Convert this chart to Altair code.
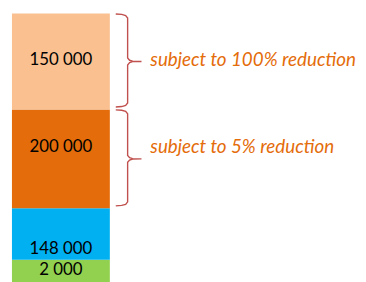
import altair as alt
import pandas as pd

# ---- data (bottom to top) ----
labels = ["2 000", "148 000", "200 000", "150 000"]
values = [2000, 148000, 200000, 150000]
drawn_size = [23, 52, 100, 97]          # relative segment heights as drawn in the picture
colors = ["#92D050", "#00B0F0", "#E46C0A", "#FAC090"]
notes = ["", "", "subject to 5% reduction", "subject to 100% reduction"]

# ---- layout (pixels) ----
W, H = 354, 272
BAR_X0, BAR_X1 = 4, 103
BRACE_TIP, BRACE_SPINE, BRACE_POINT = 109, 121, 135
NOTE_X = 144
label_shift = [1.5, -15, 12, 1.5]   # vertical label nudge (px, positive = up)
note_shift = [0, 0, 12, 1.5]

rows = []
acc = 0
for i, (lab, v, s, c, n) in enumerate(zip(labels, values, drawn_size, colors, notes)):
    rows.append(dict(label=lab, value=v, y0=acc, y1=acc + s, mid=acc + s / 2,
                     label_y=acc + s / 2 + label_shift[i],
                     note=n, note_y=acc + s / 2 + note_shift[i], color=c, order=i))
    acc += s
df = pd.DataFrame(rows)
TOTAL = acc

yscale = alt.Scale(domain=[0, TOTAL], nice=False, zero=True)
xscale = alt.Scale(domain=[0, W], nice=False, zero=True)

bars = alt.Chart(df).mark_rect().encode(
    x=alt.value(BAR_X0), x2=alt.value(BAR_X1),
    y=alt.Y("y0:Q", scale=yscale, axis=None), y2="y1:Q",
    color=alt.Color("color:N", scale=None),
)

texts = alt.Chart(df).mark_text(font="Lato", fontSize=17, color="#000000").encode(
    x=alt.value((BAR_X0 + BAR_X1) / 2),
    y=alt.Y("label_y:Q", scale=yscale, axis=None),
    text="label:N",
)

# braces for the annotated segments
brace_pts = []
for r in rows:
    if not r["note"]:
        continue
    top, bot = r["y1"] - 0.5, r["y0"] + 2.5
    mid = r["mid"]
    shape = [
        (BRACE_TIP, top), (BRACE_TIP + 6, top - 0.4), (BRACE_TIP + 10, top - 1.5),
        (BRACE_SPINE, top - 4), (BRACE_SPINE, mid + 3.5),
        (BRACE_SPINE + 2, mid + 1.2), (BRACE_SPINE + 5, mid + 0.2), (BRACE_POINT, mid),
        (BRACE_SPINE + 5, mid - 0.2), (BRACE_SPINE + 2, mid - 1.2), (BRACE_SPINE, mid - 3.5),
        (BRACE_SPINE, bot + 4), (BRACE_TIP + 10, bot + 1.5), (BRACE_TIP + 6, bot + 0.4),
        (BRACE_TIP, bot),
    ]
    for k, (bx, by) in enumerate(shape):
        brace_pts.append(dict(brace=r["label"], k=k, bx=bx, by=by))
braces_df = pd.DataFrame(brace_pts)

braces = alt.Chart(braces_df).mark_line(color="#C0504D", strokeWidth=1.4).encode(
    x=alt.X("bx:Q", scale=xscale, axis=None),
    y=alt.Y("by:Q", scale=yscale, axis=None),
    detail="brace:N",
    order="k:Q",
)

note_df = df[df["note"] != ""]
note_text = alt.Chart(note_df).mark_text(
    font="Lato", fontSize=19, fontStyle="italic", color="#E46C0A", align="left"
).encode(
    x=alt.value(NOTE_X),
    y=alt.Y("note_y:Q", scale=yscale, axis=None),
    text="note:N",
)

chart = alt.layer(bars, texts, braces, note_text).properties(
    width=W, height=H,
    padding={"left": 0, "top": 1, "right": 0, "bottom": 0},
).configure(background="white").configure_view(stroke=None)

chart.save("out.html", embed_options={"renderer": "svg", "actions": False})
